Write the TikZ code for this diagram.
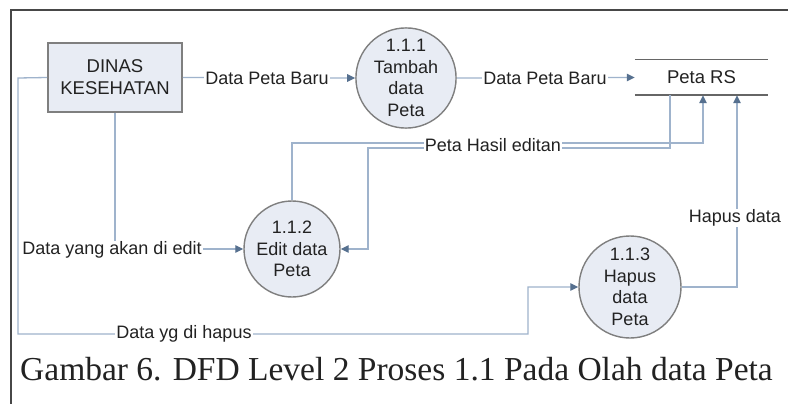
\documentclass[tikz,border=0pt]{standalone}
\usepackage{fontspec}
\setmainfont{Liberation Sans}
\newfontfamily\capfont{Liberation Serif}
\usetikzlibrary{arrows.meta}
\definecolor{linec}{HTML}{9FB3CC}
\definecolor{tipc}{HTML}{56708F}
\definecolor{fillc}{HTML}{E8ECF4}
\definecolor{edgec}{HTML}{7F7F7F}
\definecolor{txtc}{HTML}{222222}
\begin{document}
\begin{tikzpicture}[x=1pt,y=-1pt,
  proc/.style={circle, draw=edgec, line width=1.4pt, fill=fillc, inner sep=0pt,
    align=center, text=txtc, font=\fontsize{18}{21.5}\selectfont},
  ebox/.style={rectangle, draw=edgec, line width=1.6pt, fill=fillc, minimum width=134pt,
    minimum height=69pt, inner sep=0pt, align=center, text=txtc,
    font=\fontsize{18.5}{22}\selectfont},
  storenode/.style={rectangle, minimum width=133pt, minimum height=35pt, inner sep=0pt,
    text=txtc, font=\fontsize{18.5}{22}\selectfont},
  flow/.style={draw=linec, line width=1.3pt},
  flowarr/.style={flow, -{Triangle[length=8pt,width=7.5pt,color=tipc]}},
  lbl/.style={fill=white, inner sep=1pt, text=txtc, font=\fontsize{18}{20}\selectfont}
]
\useasboundingbox (0,0) rectangle (788,404);
\fill[white] (0,0) rectangle (788,404);
% frame
\draw[line width=2pt, color=black!72] (11,404) -- (11,10) -- (788,10);

% nodes
\node[ebox] (dinas) at (115,77.5) {DINAS\\KESEHATAN};
\node[proc, minimum size=100pt] (p1) at (406,78) {1.1.1\\Tambah\\data\\Peta};
\node[proc, minimum size=96pt] (p2) at (292,249) {1.1.2\\Edit data\\Peta};
\node[proc, minimum size=102pt] (p3) at (630,287) {1.1.3\\Hapus\\data\\Peta};
\node[storenode] (store) at (701.5,77.5) {Peta RS};
\draw[line width=1.4pt, color=black!60] (store.north west) -- (store.north east);
\draw[line width=1.4pt, color=black!60] (store.south west) -- (store.south east);

% connector points
\coordinate (sA) at ([xshift=1.5pt]store.south);
\coordinate (sB) at ([xshift=-31.5pt]store.south);
\coordinate (sC) at ([xshift=35.5pt]store.south);

% flows
\draw[flowarr] (dinas.east) -- (p1.west);
\draw[flowarr] (p1.east) -- (store.west);
\draw[flowarr] (p2.north) |- (703,143) -- (sA);
\draw[flowarr] (sB) |- (368,148) |- (p2.east);
\draw[flowarr] (dinas.south) |- (p2.west);
\draw[flowarr] (dinas.west) -- (18,78) |- (528,334) |- (p3.west);
\draw[flowarr] (p3.east) -| (sC);

% labels
\node[lbl] (l1) at (267,78) {Data Peta Baru};
\node[lbl] (l2) at (545,78) {Data Peta Baru};
\node[lbl] (l3) at (493,145) {Peta Hasil editan};
\node[lbl] (l4) at (112,250) {Data yang akan di edit};
\node[lbl] (l5) at (184,334) {Data yg di hapus};
\node[lbl] (l6) at (735,218) {Hapus data};

% caption
\node[anchor=base west, inner sep=0pt, text=txtc, font=\capfont\fontsize{33.5}{36}\selectfont]
  (cap) at (20,380) {Gambar 6. DFD Level 2 Proses 1.1 Pada Olah data Peta};
\end{tikzpicture}
\end{document}
